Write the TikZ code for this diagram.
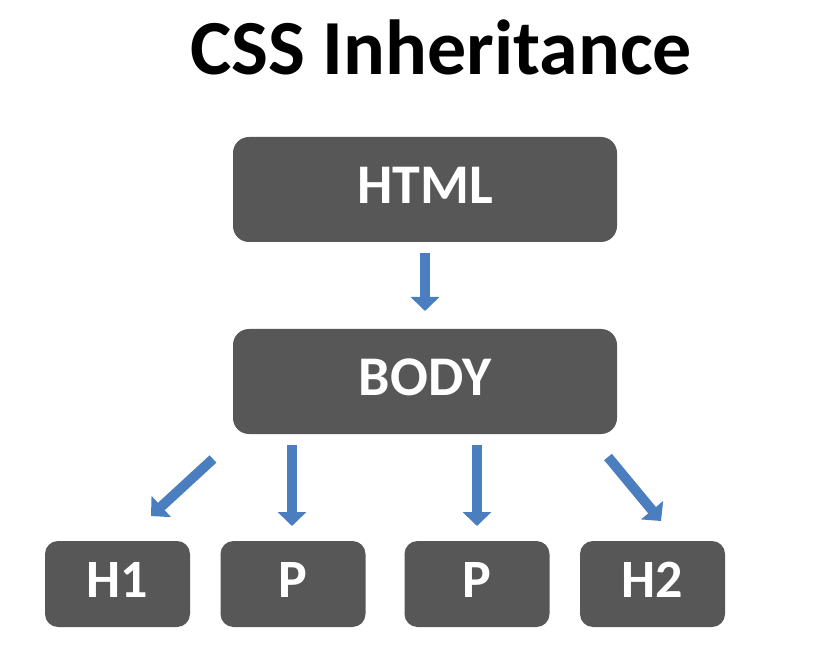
\documentclass[tikz,border=0pt]{standalone}
\usepackage{fontspec}
\setmainfont{Carlito}
\usetikzlibrary{arrows.meta}
\definecolor{boxgray}{HTML}{575757}
\definecolor{arrowblue}{HTML}{4A7EBF}
\begin{document}
\begin{tikzpicture}[x=1pt,y=-1pt,
  bigbox/.style={draw=none,fill=boxgray,rounded corners=16pt,minimum width=384pt,minimum height=105pt,text=white,font=\bfseries\fontsize{56}{60}\selectfont,inner sep=0pt,text height=36pt,text depth=8pt},
  smallbox/.style={draw=none,fill=boxgray,rounded corners=13pt,minimum width=145pt,minimum height=86pt,text=white,font=\bfseries\fontsize{54}{58}\selectfont,inner sep=0pt,text height=35pt,text depth=9pt},
  inherit/.style={draw=arrowblue,line width=10pt,-{Triangle[length=14pt,width=28pt]}}]
\useasboundingbox (0,0) rectangle (838,668);
\node[anchor=base,font=\bfseries\fontsize{78}{84}\selectfont] (title) at (441,75) {CSS Inheritance};
\node[bigbox] (html) at (425,189.5) {HTML};
\node[bigbox] (body) at (425,381.5) {BODY};
\node[smallbox] (h1) at (117.5,584) {H1};
\node[smallbox] (p1) at (293,584) {P};
\node[smallbox] (p2) at (477,584) {P};
\node[smallbox] (h2) at (652.5,584) {H2};
\coordinate (a0s) at (425,253);
\coordinate (a0e) at (425,311);
\coordinate (a1s) at (213,459);
\coordinate (a1e) at (151,516);
\coordinate (a2s) at (292,445);
\coordinate (a2e) at (292,526);
\coordinate (a3s) at (477,445);
\coordinate (a3e) at (477,526);
\coordinate (a4s) at (608,457);
\coordinate (a4e) at (661,521);
\draw[inherit] (a0s) -- (a0e);
\draw[inherit] (a1s) -- (a1e);
\draw[inherit] (a2s) -- (a2e);
\draw[inherit] (a3s) -- (a3e);
\draw[inherit] (a4s) -- (a4e);
\end{tikzpicture}
\end{document}
